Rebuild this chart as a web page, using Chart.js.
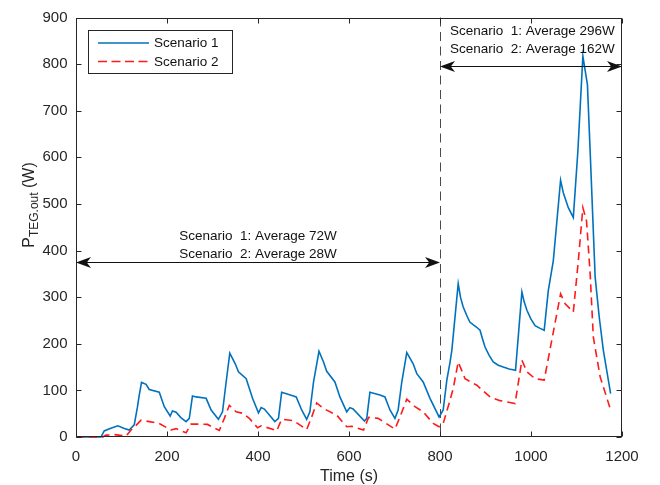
<!DOCTYPE html>
<html>
<head>
<meta charset="utf-8">
<script src="https://cdn.jsdelivr.net/npm/chart.js@4.4.0/dist/chart.umd.min.js"></script>
<style>
html,body{margin:0;padding:0;background:#fff;}
#wrap{width:660px;height:485px;position:relative;}
</style>
</head>
<body>
<div id="wrap"><canvas id="c" width="660" height="485"></canvas></div>
<script>
// ---- data ----
const t1 = [0,55,62,75,92,105,117,128,135,139,144,154,161,183,194,207,212,220,231,242,249,256,264,286,297,313,322,330,338,350,357,374,388,401,407,414,437,445,452,478,484,496,507,514,522,534,544,551,569,580,595,602,609,634,639,646,668,679,690,701,708,716,727,741,749,763,778,798,807,815,822,826,840,845,851,860,866,880,888,893,899,908,917,928,939,952,966,980,985,991,1000,1009,1020,1029,1038,1049,1065,1071,1082,1093,1103,1114,1124,1130,1141,1150,1159,1175];
const p1 = [0,0,13,18,24,19,15,26,64,90,117,113,102,96,65,45,56,53,41,33,40,88,86,83,58,38,54,118,180,157,140,125,83,52,63,60,33,40,96,88,86,58,38,54,118,184,161,141,118,86,54,63,60,34,40,96,90,86,58,40,58,118,181,157,136,118,83,43,58,122,160,186,329,300,279,258,246,236,229,212,193,175,161,154,150,146,143,311,290,272,253,239,233,229,314,378,551,524,492,471,613,817,756,613,343,257,186,93];
const t2 = [0,59,66,85,110,121,132,143,161,183,209,220,242,253,289,315,326,337,352,366,381,399,407,438,441,452,478,507,518,529,544,573,595,606,632,643,664,701,712,727,745,763,785,798,807,822,829,840,855,881,910,932,965,980,991,1009,1029,1065,1075,1093,1104,1114,1122,1130,1137,1152,1175];
const p2 = [0,0,4,5,2,15,25,36,33,29,15,18,9,28,27,14,40,68,54,51,40,20,24,15,13,38,35,16,43,73,61,47,22,23,15,42,40,17,43,81,65,54,29,22,29,79,104,161,125,111,86,78,72,165,140,125,122,307,286,268,378,492,464,350,214,129,58];
const seriesNames = ['Scenario 1','Scenario 2'];
const xTicks = [0,200,400,600,800,1000,1200];
const yTicks = [0,100,200,300,400,500,600,700,800,900];
const dividerT = 800;
const arrowLow = {from:0, to:800, p:375, lines:['Scenario  1: Average 72W','Scenario  2: Average 28W'], tx:400, ty:[430,393]};
const arrowHigh = {from:800, to:1200, p:795, lines:['Scenario  1: Average 296W','Scenario  2: Average 162W'], tx:1003, ty:[870,831]};

const FONT = "'Liberation Sans', Arial, sans-serif";
const INK = '#262626';
const BLUE = '#0072BD';
const RED = '#FF1A1A';

function toXY(ts, ps){ return ts.map((t,i)=>({x:t, y:ps[i]})); }

function arrowHead(ctx, x, y, dir){
  const L = 15, W = 5.5;
  ctx.beginPath();
  ctx.moveTo(x, y);
  ctx.lineTo(x - dir*L, y - W);
  ctx.lineTo(x - dir*L*0.72, y);
  ctx.lineTo(x - dir*L, y + W);
  ctx.closePath();
  ctx.fill();
}

const deco = {
  id:'deco',
  beforeDatasetsDraw(chart){
    const {ctx, chartArea:a, scales:{x,y}} = chart;
    ctx.save();
    ctx.strokeStyle = '#4a4a4a';
    ctx.lineWidth = 1;
    ctx.setLineDash([9,5.5]);
    const xd = Math.round(x.getPixelForValue(dividerT)) + 0.5;
    ctx.beginPath(); ctx.moveTo(xd, a.top); ctx.lineTo(xd, a.bottom); ctx.stroke();
    ctx.setLineDash([]);
    ctx.restore();
  },
  afterDraw(chart){
    const {ctx, chartArea:a, scales:{x,y}} = chart;
    ctx.save();
    ctx.strokeStyle = INK; ctx.lineWidth = 1;
    const L = Math.round(a.left)+0.5, R = Math.round(a.right)-0.5, T = Math.round(a.top)+0.5, B = Math.round(a.bottom)-0.5;
    ctx.strokeRect(L, T, R-L, B-T);
    ctx.beginPath();
    xTicks.forEach(v=>{
      const px = Math.round(x.getPixelForValue(v))+0.5;
      ctx.moveTo(px, B); ctx.lineTo(px, B-5);
      ctx.moveTo(px, T); ctx.lineTo(px, T+5);
    });
    yTicks.forEach(v=>{
      const py = Math.round(y.getPixelForValue(v))+0.5;
      ctx.moveTo(L, py); ctx.lineTo(L+5, py);
      ctx.moveTo(R, py); ctx.lineTo(R-5, py);
    });
    ctx.stroke();

    ctx.strokeStyle = '#111'; ctx.fillStyle = '#111'; ctx.lineWidth = 1;
    [arrowLow, arrowHigh].forEach(ar=>{
      const x1 = x.getPixelForValue(ar.from), x2 = x.getPixelForValue(ar.to);
      const py = Math.round(y.getPixelForValue(ar.p))+0.5;
      ctx.beginPath(); ctx.moveTo(x1+8, py); ctx.lineTo(x2-8, py); ctx.stroke();
      arrowHead(ctx, x1, py, -1);
      arrowHead(ctx, x2, py, 1);
      ctx.font = '13.5px ' + FONT;
      ctx.textAlign = 'center'; ctx.textBaseline = 'middle';
      ar.lines.forEach((s,i)=>{
        ctx.fillText(s, x.getPixelForValue(ar.tx), y.getPixelForValue(ar.ty[i]));
      });
    });

    const lx = 88.5, ly = 30.5, lw = 144, lh = 43;
    ctx.fillStyle = '#fff';
    ctx.fillRect(lx, ly, lw, lh);
    ctx.strokeStyle = INK; ctx.lineWidth = 1;
    ctx.strokeRect(lx, ly, lw, lh);
    ctx.lineWidth = 1.5;
    ctx.strokeStyle = BLUE;
    ctx.beginPath(); ctx.moveTo(98, 43); ctx.lineTo(149, 43); ctx.stroke();
    ctx.strokeStyle = RED; ctx.setLineDash([9,4.5]);
    ctx.beginPath(); ctx.moveTo(98, 61.5); ctx.lineTo(149, 61.5); ctx.stroke();
    ctx.setLineDash([]);
    ctx.fillStyle = '#111';
    ctx.font = '13.5px ' + FONT;
    ctx.textAlign = 'left'; ctx.textBaseline = 'middle';
    ctx.fillText(seriesNames[0], 154, 43);
    ctx.fillText(seriesNames[1], 154, 62);

    ctx.fillStyle = INK;
    ctx.font = '16px ' + FONT;
    ctx.textAlign = 'center'; ctx.textBaseline = 'middle';
    ctx.fillText('Time (s)', (a.left+a.right)/2, 477);

    ctx.save();
    ctx.translate(34, 205);
    ctx.rotate(-Math.PI/2);
    ctx.textBaseline = 'alphabetic'; ctx.textAlign = 'left';
    const f1 = '16px ' + FONT, f2 = '12px ' + FONT;
    ctx.font = f1; const wP = ctx.measureText('P').width;
    ctx.font = f2; const wS = ctx.measureText('TEG.out').width;
    ctx.font = f1; const wW = ctx.measureText(' (W)').width;
    let sx = -(wP+wS+wW)/2;
    ctx.font = f1; ctx.fillText('P', sx, 0); sx += wP;
    ctx.font = f2; ctx.fillText('TEG.out', sx, 4); sx += wS;
    ctx.font = f1; ctx.fillText(' (W)', sx, 0);
    ctx.restore();

    ctx.restore();
  }
};

new Chart(document.getElementById('c'), {
  type:'line',
  data:{
    datasets:[
      {label:seriesNames[0], data:toXY(t1,p1), borderColor:BLUE, borderWidth:1.6, pointRadius:0, tension:0, fill:false, clip:false, order:1},
      {label:seriesNames[1], data:toXY(t2,p2), borderColor:RED, borderWidth:1.6, borderDash:[8,5], pointRadius:0, tension:0, fill:false, clip:false, order:0}
    ]
  },
  options:{
    responsive:false,
    animation:false,
    devicePixelRatio:1,
    layout:{padding:{top:16, right:38, left:0, bottom:0}},
    plugins:{legend:{display:false}, tooltip:{enabled:false}, title:{display:false}},
    scales:{
      x:{
        type:'linear', min:0, max:1200,
        afterFit(s){ s.height = 48; },
        afterBuildTicks(s){ s.ticks = xTicks.map(v=>({value:v})); },
        grid:{display:false, drawTicks:false},
        border:{display:false},
        ticks:{padding:11, color:INK, font:{family:FONT, size:15}, maxRotation:0, autoSkip:false, callback:(v)=>String(v)}
      },
      y:{
        type:'linear', min:0, max:900,
        afterFit(s){ s.width = 76; },
        afterBuildTicks(s){ s.ticks = yTicks.map(v=>({value:v})); },
        grid:{display:false, drawTicks:false},
        border:{display:false},
        ticks:{padding:8.5, color:INK, font:{family:FONT, size:15}, autoSkip:false, callback:(v)=>String(v)}
      }
    }
  },
  plugins:[deco]
});
</script>
</body>
</html>
